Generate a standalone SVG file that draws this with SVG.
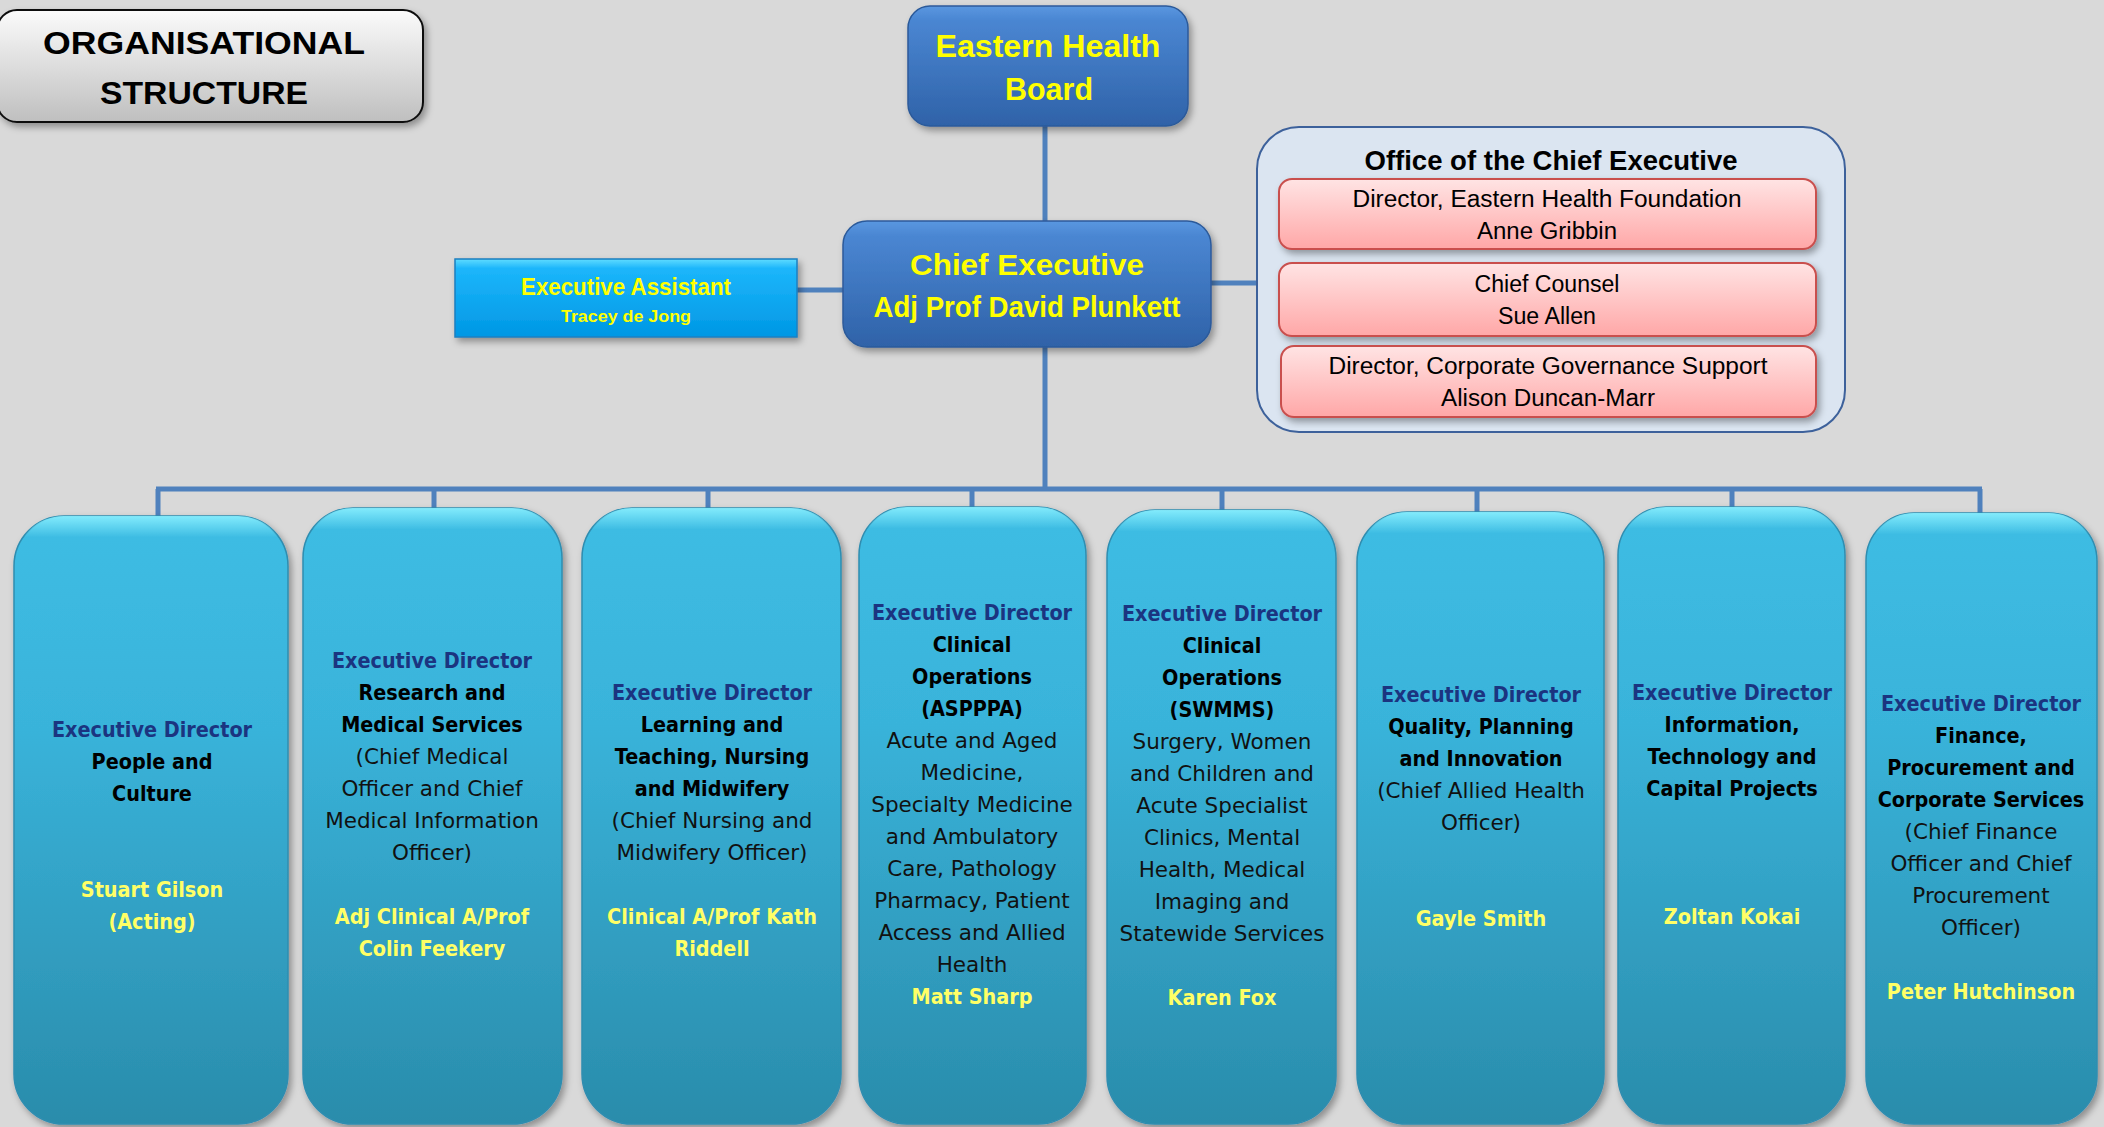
<svg xmlns="http://www.w3.org/2000/svg" width="2104" height="1127" viewBox="0 0 2104 1127">
<defs>
<style>
.cal{font-family:"Liberation Sans",Arial,sans-serif;text-anchor:middle}
.bw{font-weight:bold}
.yel{fill:#ffff00}
.dv{font-family:"DejaVu Sans",Verdana,sans-serif;text-anchor:middle;font-size:22px}
.ed{font-weight:bold;fill:#1b3480}
.t{font-weight:bold;fill:#000}
.r{fill:#111;font-size:21.5px}
.n{font-weight:bold;fill:#ffff66}
.conn{stroke:#4f81bd;stroke-width:5;fill:none}
.leaf{fill:url(#gLeaf);stroke:#2f8db0;stroke-width:1.5}
.leafHi{fill:url(#gLeafHi)}
.pink{fill:url(#gPink);stroke:#c9504e;stroke-width:2}
</style>
<linearGradient id="gTitle" x1="0" y1="0" x2="0" y2="1"><stop offset="0" stop-color="#fbfbfb"/><stop offset="1" stop-color="#bfbfbf"/></linearGradient>
<linearGradient id="gBlue" x1="0" y1="0" x2="0" y2="1"><stop offset="0" stop-color="#5a97e0"/><stop offset="0.12" stop-color="#4a86d2"/><stop offset="1" stop-color="#2f62a8"/></linearGradient>
<linearGradient id="gEA" x1="0" y1="0" x2="0" y2="1"><stop offset="0" stop-color="#5fdcff"/><stop offset="0.12" stop-color="#1cb6fb"/><stop offset="1" stop-color="#0097e4"/></linearGradient>
<linearGradient id="gPink" x1="0" y1="0" x2="0" y2="1"><stop offset="0" stop-color="#ffe4e4"/><stop offset="1" stop-color="#ffa7a7"/></linearGradient>
<linearGradient id="gLeaf" x1="0" y1="0" x2="0" y2="1"><stop offset="0" stop-color="#3ebde4"/><stop offset="0.35" stop-color="#39b3da"/><stop offset="1" stop-color="#2a8cab"/></linearGradient>
<linearGradient id="gLeafHi" x1="0" y1="0" x2="0" y2="1"><stop offset="0" stop-color="#8af0ff" stop-opacity="0.9"/><stop offset="0.035" stop-color="#8af0ff" stop-opacity="0"/></linearGradient>
<filter id="sh" x="-10%" y="-10%" width="125%" height="125%"><feDropShadow dx="3" dy="4" stdDeviation="3.5" flood-color="#000" flood-opacity="0.35"/></filter>
</defs>
<rect width="2104" height="1127" fill="#d9d9d9"/>

<g id="connectors">
<line class="conn" x1="1045" y1="126" x2="1045" y2="221"/>
<line class="conn" x1="1045" y1="347" x2="1045" y2="489"/>
<line class="conn" x1="797" y1="290" x2="843" y2="290"/>
<line class="conn" x1="1211" y1="283" x2="1257" y2="283"/>
<line class="conn" x1="156" y1="489" x2="1982" y2="489" stroke-width="6"/>
<line class="conn" x1="158" y1="489" x2="158" y2="516" stroke-width="4"/>
<line class="conn" x1="434" y1="489" x2="434" y2="508" stroke-width="4"/>
<line class="conn" x1="708" y1="489" x2="708" y2="508" stroke-width="4"/>
<line class="conn" x1="972" y1="489" x2="972" y2="507" stroke-width="4"/>
<line class="conn" x1="1222" y1="489" x2="1222" y2="510" stroke-width="4"/>
<line class="conn" x1="1477" y1="489" x2="1477" y2="512" stroke-width="4"/>
<line class="conn" x1="1732" y1="489" x2="1732" y2="507" stroke-width="4"/>
<line class="conn" x1="1980" y1="489" x2="1980" y2="513" stroke-width="4"/>
</g>

<g id="title">
<rect x="-3" y="10" width="426" height="112" rx="20" fill="url(#gTitle)" stroke="#111" stroke-width="2" filter="url(#sh)"/>
<text class="cal bw" x="204" y="54" font-size="32" textLength="322" lengthAdjust="spacingAndGlyphs">ORGANISATIONAL</text>
<text class="cal bw" x="204" y="104" font-size="32" textLength="208" lengthAdjust="spacingAndGlyphs">STRUCTURE</text>
</g>

<g id="board">
<rect x="908" y="6" width="280" height="120" rx="22" fill="url(#gBlue)" stroke="#2c5a9a" stroke-width="1.5" filter="url(#sh)"/>
<text class="cal bw yel" x="1048" y="57" font-size="32" textLength="225" lengthAdjust="spacingAndGlyphs">Eastern Health</text>
<text class="cal bw yel" x="1049" y="100" font-size="32" textLength="88" lengthAdjust="spacingAndGlyphs">Board</text>
</g>

<g id="ceo">
<rect x="843" y="221" width="368" height="126" rx="24" fill="url(#gBlue)" stroke="#2c5a9a" stroke-width="1.5" filter="url(#sh)"/>
<text class="cal bw yel" x="1027" y="275" font-size="29" textLength="234" lengthAdjust="spacingAndGlyphs">Chief Executive</text>
<text class="cal bw yel" x="1027" y="317" font-size="29" textLength="307" lengthAdjust="spacingAndGlyphs">Adj Prof David Plunkett</text>
</g>

<g id="exec-assistant">
<rect x="455" y="259" width="342" height="78" fill="url(#gEA)" stroke="#1d7fc0" stroke-width="1.5" filter="url(#sh)"/>
<text class="cal bw yel" x="626" y="295" font-size="23" textLength="210" lengthAdjust="spacingAndGlyphs">Executive Assistant</text>
<text class="cal bw yel" x="626" y="322" font-size="17" textLength="130" lengthAdjust="spacingAndGlyphs">Tracey de Jong</text>
</g>

<g id="office">
<rect x="1257" y="127" width="588" height="305" rx="42" fill="#dbe5f1" stroke="#3d619b" stroke-width="2"/>
<text class="cal bw" x="1551" y="170" font-size="28" textLength="373" lengthAdjust="spacingAndGlyphs">Office of the Chief Executive</text>
</g>

<g id="foundation">
<rect class="pink" x="1279" y="179" width="537" height="70" rx="13" filter="url(#sh)"/>
<text class="cal" x="1547" y="207" font-size="23" textLength="389" lengthAdjust="spacingAndGlyphs">Director, Eastern Health Foundation</text>
<text class="cal" x="1547" y="239" font-size="23" textLength="140" lengthAdjust="spacingAndGlyphs">Anne Gribbin</text>
</g>

<g id="counsel">
<rect class="pink" x="1279" y="263" width="537" height="73" rx="13" filter="url(#sh)"/>
<text class="cal" x="1547" y="292" font-size="23" textLength="145" lengthAdjust="spacingAndGlyphs">Chief Counsel</text>
<text class="cal" x="1547" y="324" font-size="23" textLength="98" lengthAdjust="spacingAndGlyphs">Sue Allen</text>
</g>

<g id="governance">
<rect class="pink" x="1281" y="346" width="535" height="71" rx="13" filter="url(#sh)"/>
<text class="cal" x="1548" y="374" font-size="23" textLength="439" lengthAdjust="spacingAndGlyphs">Director, Corporate Governance Support</text>
<text class="cal" x="1548" y="406" font-size="23" textLength="214" lengthAdjust="spacingAndGlyphs">Alison Duncan-Marr</text>
</g>

<g id="ed-people">
<rect class="leaf" x="14" y="516" width="274" height="608" rx="50" filter="url(#sh)" stroke="#3a68a8"/>
<rect class="leafHi" x="14" y="516" width="274" height="608" rx="50"/>
<text class="dv ed" transform="translate(152,737) scale(.875,1)">Executive Director</text>
<text class="dv t" transform="translate(152,769) scale(.875,1)">People and</text>
<text class="dv t" transform="translate(152,801) scale(.875,1)">Culture</text>
<text class="dv n" transform="translate(152,897) scale(.875,1)">Stuart Gilson</text>
<text class="dv n" transform="translate(152,929) scale(.875,1)">(Acting)</text>
</g>

<g id="ed-research">
<rect class="leaf" x="303" y="508" width="259" height="616" rx="50" filter="url(#sh)"/>
<rect class="leafHi" x="303" y="508" width="259" height="616" rx="50"/>
<text class="dv ed" transform="translate(432,668) scale(.875,1)">Executive Director</text>
<text class="dv t" transform="translate(432,700) scale(.875,1)">Research and</text>
<text class="dv t" transform="translate(432,732) scale(.875,1)">Medical Services</text>
<text class="dv r" x="432" y="764">(Chief Medical</text>
<text class="dv r" x="432" y="796">Officer and Chief</text>
<text class="dv r" x="432" y="828">Medical Information</text>
<text class="dv r" x="432" y="860">Officer)</text>
<text class="dv n" transform="translate(432,924) scale(.875,1)">Adj Clinical A/Prof</text>
<text class="dv n" transform="translate(432,956) scale(.875,1)">Colin Feekery</text>
</g>

<g id="ed-nursing">
<rect class="leaf" x="582" y="508" width="259" height="616" rx="50" filter="url(#sh)"/>
<rect class="leafHi" x="582" y="508" width="259" height="616" rx="50"/>
<text class="dv ed" transform="translate(712,700) scale(.875,1)">Executive Director</text>
<text class="dv t" transform="translate(712,732) scale(.875,1)">Learning and</text>
<text class="dv t" transform="translate(712,764) scale(.875,1)">Teaching, Nursing</text>
<text class="dv t" transform="translate(712,796) scale(.875,1)">and Midwifery</text>
<text class="dv r" x="712" y="828">(Chief Nursing and</text>
<text class="dv r" x="712" y="860">Midwifery Officer)</text>
<text class="dv n" transform="translate(712,924) scale(.875,1)">Clinical A/Prof Kath</text>
<text class="dv n" transform="translate(712,956) scale(.875,1)">Riddell</text>
</g>

<g id="ed-asppa">
<rect class="leaf" x="859" y="507" width="227" height="617" rx="48" filter="url(#sh)"/>
<rect class="leafHi" x="859" y="507" width="227" height="617" rx="48"/>
<text class="dv ed" transform="translate(972,620) scale(.875,1)">Executive Director</text>
<text class="dv t" transform="translate(972,652) scale(.875,1)">Clinical</text>
<text class="dv t" transform="translate(972,684) scale(.875,1)">Operations</text>
<text class="dv t" transform="translate(972,716) scale(.875,1)">(ASPPPA)</text>
<text class="dv r" x="972" y="748">Acute and Aged</text>
<text class="dv r" x="972" y="780">Medicine,</text>
<text class="dv r" x="972" y="812">Specialty Medicine</text>
<text class="dv r" x="972" y="844">and Ambulatory</text>
<text class="dv r" x="972" y="876">Care, Pathology</text>
<text class="dv r" x="972" y="908">Pharmacy, Patient</text>
<text class="dv r" x="972" y="940">Access and Allied</text>
<text class="dv r" x="972" y="972">Health</text>
<text class="dv n" transform="translate(972,1004) scale(.875,1)">Matt Sharp</text>
</g>

<g id="ed-swmms">
<rect class="leaf" x="1107" y="510" width="229" height="614" rx="48" filter="url(#sh)"/>
<rect class="leafHi" x="1107" y="510" width="229" height="614" rx="48"/>
<text class="dv ed" transform="translate(1222,621) scale(.875,1)">Executive Director</text>
<text class="dv t" transform="translate(1222,653) scale(.875,1)">Clinical</text>
<text class="dv t" transform="translate(1222,685) scale(.875,1)">Operations</text>
<text class="dv t" transform="translate(1222,717) scale(.875,1)">(SWMMS)</text>
<text class="dv r" x="1222" y="749">Surgery, Women</text>
<text class="dv r" x="1222" y="781">and Children and</text>
<text class="dv r" x="1222" y="813">Acute Specialist</text>
<text class="dv r" x="1222" y="845">Clinics, Mental</text>
<text class="dv r" x="1222" y="877">Health, Medical</text>
<text class="dv r" x="1222" y="909">Imaging and</text>
<text class="dv r" x="1222" y="941">Statewide Services</text>
<text class="dv n" transform="translate(1222,1005) scale(.875,1)">Karen Fox</text>
</g>

<g id="ed-quality">
<rect class="leaf" x="1357" y="512" width="247" height="612" rx="50" filter="url(#sh)"/>
<rect class="leafHi" x="1357" y="512" width="247" height="612" rx="50"/>
<text class="dv ed" transform="translate(1481,702) scale(.875,1)">Executive Director</text>
<text class="dv t" transform="translate(1481,734) scale(.875,1)">Quality, Planning</text>
<text class="dv t" transform="translate(1481,766) scale(.875,1)">and Innovation</text>
<text class="dv r" x="1481" y="798">(Chief Allied Health</text>
<text class="dv r" x="1481" y="830">Officer)</text>
<text class="dv n" transform="translate(1481,926) scale(.875,1)">Gayle Smith</text>
</g>

<g id="ed-information">
<rect class="leaf" x="1618" y="507" width="227" height="617" rx="48" filter="url(#sh)"/>
<rect class="leafHi" x="1618" y="507" width="227" height="617" rx="48"/>
<text class="dv ed" transform="translate(1732,700) scale(.875,1)">Executive Director</text>
<text class="dv t" transform="translate(1732,732) scale(.875,1)">Information,</text>
<text class="dv t" transform="translate(1732,764) scale(.875,1)">Technology and</text>
<text class="dv t" transform="translate(1732,796) scale(.875,1)">Capital Projects</text>
<text class="dv n" transform="translate(1732,924) scale(.875,1)">Zoltan Kokai</text>
</g>

<g id="ed-finance">
<rect class="leaf" x="1866" y="513" width="231" height="611" rx="48" filter="url(#sh)"/>
<rect class="leafHi" x="1866" y="513" width="231" height="611" rx="48"/>
<text class="dv ed" transform="translate(1981,711) scale(.875,1)">Executive Director</text>
<text class="dv t" transform="translate(1981,743) scale(.875,1)">Finance,</text>
<text class="dv t" transform="translate(1981,775) scale(.875,1)">Procurement and</text>
<text class="dv t" transform="translate(1981,807) scale(.875,1)">Corporate Services</text>
<text class="dv r" x="1981" y="839">(Chief Finance</text>
<text class="dv r" x="1981" y="871">Officer and Chief</text>
<text class="dv r" x="1981" y="903">Procurement</text>
<text class="dv r" x="1981" y="935">Officer)</text>
<text class="dv n" transform="translate(1981,999) scale(.875,1)">Peter Hutchinson</text>
</g>
</svg>
